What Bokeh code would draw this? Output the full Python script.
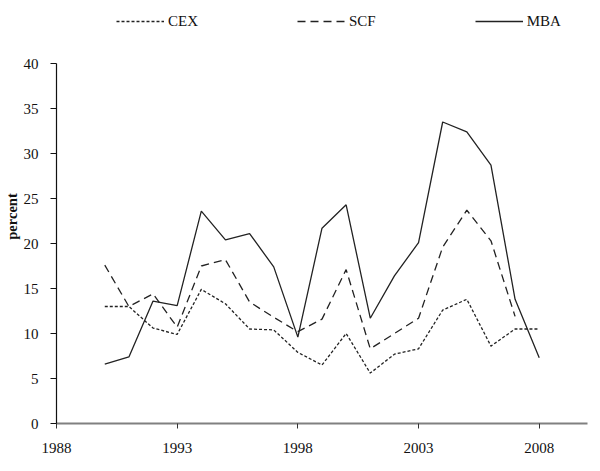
from bokeh.plotting import figure
from bokeh.models import Range1d, FixedTicker, Legend, LegendItem
from bokeh.embed import file_html
from bokeh.resources import INLINE

years = list(range(1990, 2009))
cex = [13.0, 13.0, 10.6, 9.9, 14.9, 13.3, 10.5, 10.4, 7.9, 6.5, 10.0, 5.6, 7.7, 8.3, 12.6, 13.8, 8.6, 10.5, 10.5]
scf_years = list(range(1990, 2008))
scf = [17.6, 13.0, 14.4, 10.7, 17.5, 18.2, 13.5, 11.8, 10.2, 11.6, 17.1, 8.3, 10.0, 11.7, 19.6, 23.7, 20.3, 11.9]
mba = [6.6, 7.4, 13.6, 13.1, 23.6, 20.4, 21.1, 17.4, 9.6, 21.7, 24.3, 11.7, 16.4, 20.1, 33.5, 32.4, 28.7, 13.8, 7.3]

x_ticks = [1988, 1993, 1998, 2003, 2008]
y_ticks = [0, 5, 10, 15, 20, 25, 30, 35, 40]
y_label = "percent"

FONT = "Liberation Serif"
TXT = "#111111"

p = figure(width=600, height=468, output_backend="svg", toolbar_location=None,
           x_range=Range1d(1988, 2010), y_range=Range1d(0, 46),
           min_border_left=53, min_border_right=13, min_border_top=9, min_border_bottom=45)
p.outline_line_color = None
p.grid.visible = False
p.background_fill_color = "white"
p.border_fill_color = "white"

r_cex = p.line(years, cex, line_color="#222222", line_width=1.3, line_dash="3 2")
r_scf = p.line(scf_years, scf, line_color="#222222", line_width=1.3, line_dash="8 5")
r_mba = p.line(years, mba, line_color="#222222", line_width=1.3)

xa = p.xaxis[0]
xa.ticker = FixedTicker(ticks=x_ticks)
xa.axis_line_color = "#808080"
xa.axis_line_width = 2.2
xa.major_tick_in = 0
xa.major_tick_out = 5
xa.major_tick_line_color = "#333333"
xa.minor_tick_line_color = None
xa.major_label_text_font = FONT
xa.major_label_text_font_size = "15px"
xa.major_label_text_color = TXT
xa.major_label_standoff = 14

ya = p.yaxis[0]
ya.ticker = FixedTicker(ticks=y_ticks)
ya.bounds = (0, 40)
ya.axis_line_color = "#111111"
ya.axis_line_width = 1.2
ya.major_tick_in = 0
ya.major_tick_out = 6
ya.major_tick_line_color = "#111111"
ya.minor_tick_line_color = None
ya.major_label_text_font = FONT
ya.major_label_text_font_size = "15px"
ya.major_label_text_color = TXT
ya.major_label_standoff = 12
ya.axis_label = y_label
ya.axis_label_text_font = FONT
ya.axis_label_text_font_size = "14.5px"
ya.axis_label_text_font_style = "bold"
ya.axis_label_text_color = TXT
ya.axis_label_standoff = 1

legend = Legend(items=[LegendItem(label="CEX", renderers=[r_cex]),
                       LegendItem(label="SCF", renderers=[r_scf]),
                       LegendItem(label="MBA", renderers=[r_mba])],
                orientation="horizontal", location=(60, 392),
                glyph_width=48, glyph_height=20, label_height=20, label_standoff=4,
                spacing=99, padding=0, margin=0,
                border_line_color=None, background_fill_alpha=0,
                label_text_font=FONT, label_text_font_size="15px", label_text_color=TXT)
p.add_layout(legend)

open("out.html", "w").write(file_html(p, INLINE))
